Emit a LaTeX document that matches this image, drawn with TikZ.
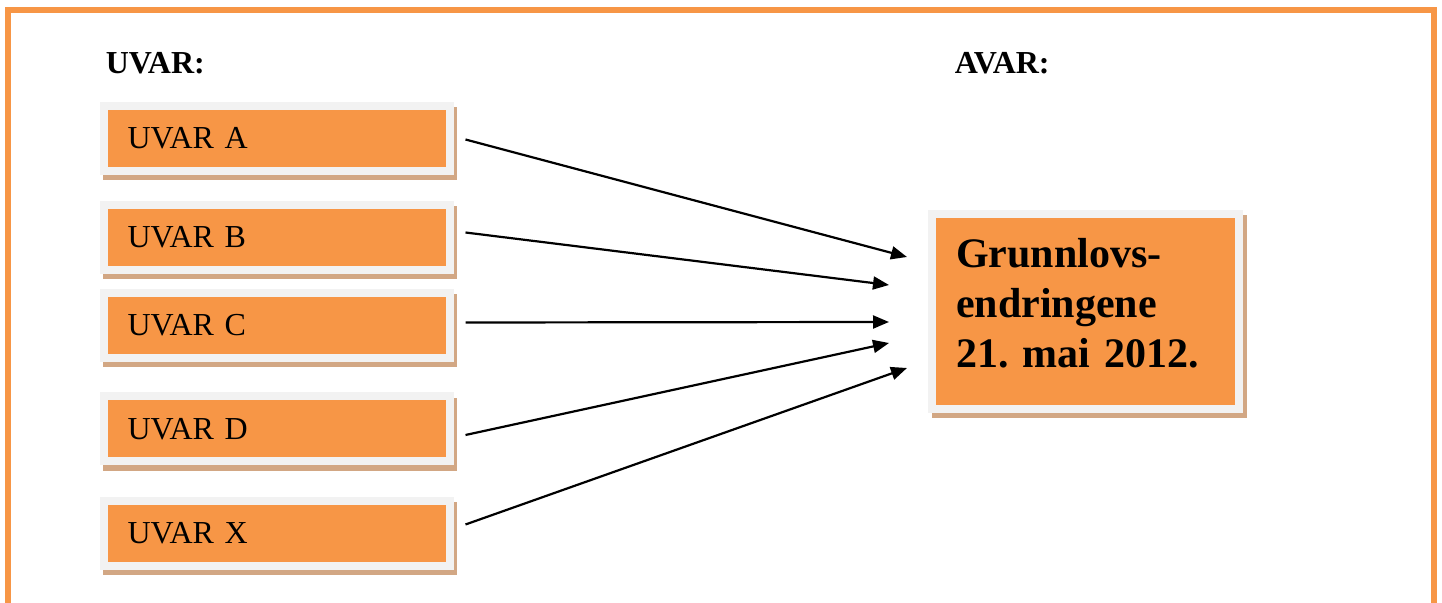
\documentclass[tikz,border=0pt]{standalone}
\usepackage{fontspec}
\setmainfont{Liberation Serif}
\frenchspacing
\usetikzlibrary{arrows.meta}
\definecolor{uvarorange}{HTML}{F79646}
\definecolor{framegray}{HTML}{F2F2F2}
\definecolor{shadowtan}{HTML}{D2A784}
\tikzset{
  boxshadow/.style={preaction={draw=shadowtan, fill=shadowtan, line width=4pt,
      transform canvas={xshift=1.75pt, yshift=-2.75pt}}},
  uvarbox/.style={boxshadow, rectangle, fill=uvarorange, draw=framegray, line width=4pt,
      inner xsep=12pt, text width=149pt, align=left, minimum height=32.5pt,
      font=\fontsize{16}{19}\selectfont},
  avarbox/.style={boxshadow, rectangle, fill=uvarorange, draw=framegray, line width=4pt,
      inner xsep=12pt, text width=129.5pt, align=left, minimum height=97.5pt,
      font=\fontsize{21}{25}\selectfont\bfseries},
  heading/.style={anchor=base west, inner sep=0pt, font=\fontsize{16}{19}\selectfont\bfseries},
}
\begin{document}
\begin{tikzpicture}[x=0.5pt, y=-0.5pt, thick, >={Triangle[length=8pt,width=6.5pt]}]
  \useasboundingbox (0,0) rectangle (1442,603);
  % frame, open at the bottom
  \draw[uvarorange, line width=3pt] (7.5,603) |- (1434,10) -- (1434,603);

  \node [heading](huvar) at (105,74){UVAR:};
  \node [heading](havar) at (954,74){AVAR:};

  \node [uvarbox](a) at (276.5,138.5){UVAR A};
  \node [uvarbox](b) at (276.5,237.5){UVAR B};
  \node [uvarbox](c) at (276.5,325.5){UVAR C};
  \node [uvarbox](d) at (276.5,429){UVAR D};
  \node [uvarbox](x) at (276.5,533.5){UVAR X};

  \node [avarbox](g) at (1085.5,311.5){Grunnlovs-\\endringene\\21. mai 2012.\par\kern8pt};

  % arrow tips in front of the big box
  \coordinate (ta) at (907,257);
  \coordinate (tb) at (889,285);
  \coordinate (tc) at (889,322);
  \coordinate (td) at (889,343);
  \coordinate (tx) at (907,368);

  \path[->, line width=1.1pt]
    ([xshift=6pt, yshift=-0.5pt]a.east) edge (ta)
    ([xshift=6pt, yshift=2.5pt]b.east) edge (tb)
    ([xshift=6pt, yshift=1.5pt]c.east) edge (tc)
    ([xshift=6pt, yshift=-3pt]d.east) edge (td)
    ([xshift=6pt, yshift=4.5pt]x.east) edge (tx)
  ;
\end{tikzpicture}
\end{document}
